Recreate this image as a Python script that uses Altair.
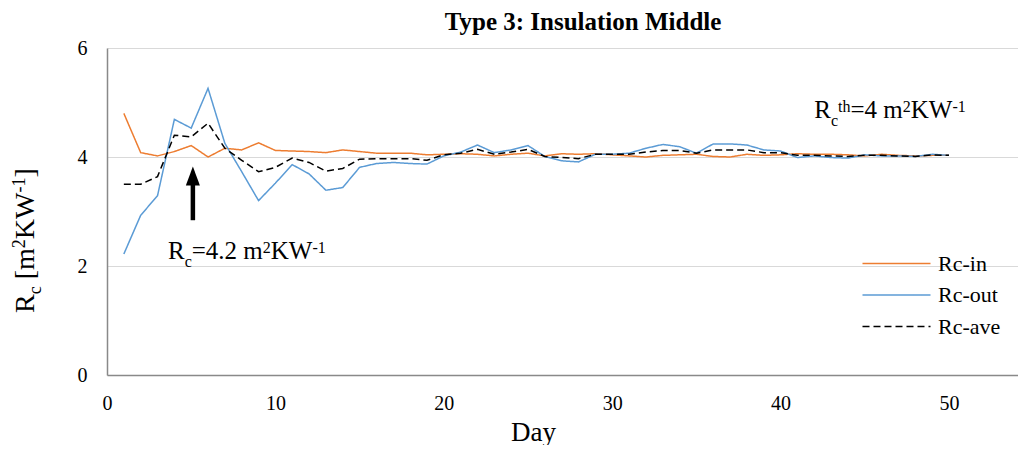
import altair as alt
import pandas as pd

# ---------------- data ----------------
days = list(range(1, 51))
rc_in = [4.80, 4.08, 4.02, 4.10, 4.21, 4.00, 4.16, 4.13, 4.26, 4.12,
         4.11, 4.10, 4.08, 4.13, 4.10, 4.07, 4.07, 4.07, 4.04, 4.05,
         4.06, 4.05, 4.02, 4.05, 4.07, 4.02, 4.06, 4.05, 4.06, 4.04,
         4.02, 4.00, 4.03, 4.04, 4.05, 4.01, 4.00, 4.05, 4.03, 4.04,
         4.06, 4.05, 4.05, 4.04, 4.02, 4.05, 4.03, 4.02, 4.03, 4.03]
rc_out = [2.22, 2.93, 3.29, 4.69, 4.53, 5.26, 4.25, 3.73, 3.20, 3.52,
          3.86, 3.69, 3.39, 3.44, 3.81, 3.88, 3.90, 3.88, 3.87, 4.02,
          4.09, 4.22, 4.08, 4.13, 4.21, 4.01, 3.93, 3.91, 4.05, 4.05,
          4.07, 4.16, 4.23, 4.19, 4.07, 4.24, 4.24, 4.22, 4.13, 4.11,
          3.99, 4.02, 3.99, 3.98, 4.04, 4.02, 4.02, 4.01, 4.05, 4.03]
rc_ave = [3.50, 3.50, 3.64, 4.40, 4.37, 4.62, 4.16, 3.94, 3.73, 3.81,
          3.98, 3.90, 3.74, 3.79, 3.96, 3.97, 3.97, 3.97, 3.94, 4.04,
          4.07, 4.14, 4.05, 4.09, 4.14, 4.01, 3.99, 3.97, 4.05, 4.05,
          4.05, 4.09, 4.12, 4.12, 4.07, 4.13, 4.13, 4.13, 4.08, 4.08,
          4.03, 4.03, 4.02, 4.01, 4.03, 4.03, 4.02, 4.01, 4.04, 4.03]
series_names = ["Rc-in", "Rc-out", "Rc-ave"]
x_ticks = [0, 10, 20, 30, 40, 50]
y_ticks = [0, 2, 4, 6]
chart_title = "Type 3: Insulation Middle"

# arrow (day, from value, to value)
arrow_day = [5.1]
arrow_from = [2.84]
arrow_to = [3.65]

rows = []
for name, vals in zip(series_names, [rc_in, rc_out, rc_ave]):
    for d, v in zip(days, vals):
        rows.append({"day": d, "value": v, "series": name})
df = pd.DataFrame(rows)

SERIF = "Liberation Serif"
X_DOMAIN = [0, 54.1]

x_enc = alt.X("day:Q", scale=alt.Scale(domain=X_DOMAIN, nice=False, zero=False),
              axis=alt.Axis(values=x_ticks, title="Day", grid=False, ticks=False,
                            format="d",
                            labelFont=SERIF, labelFontSize=20, labelColor="black",
                            labelPadding=18, domainColor="#898989", domainWidth=1.5,
                            titleFont=SERIF, titleFontSize=27, titleFontWeight="normal",
                            titleColor="black", titleX=426, titleY=65,
                            titleBaseline="alphabetic", titleAlign="center",
                            labelFlush=False))
y_enc = alt.Y("value:Q", scale=alt.Scale(domain=[0, 6], nice=False),
              axis=alt.Axis(values=y_ticks, title=None, grid=True, gridColor="#d9d9d9",
                            gridWidth=1.2, ticks=False, format="d", labelFont=SERIF,
                            labelFontSize=20, labelColor="black", labelPadding=20,
                            domainColor="#898989", domainWidth=1.5))

# wide legend line: custom path spanning 3x the nominal symbol size
SYM_PATH = "M-3,0H3"
legend_cfg = dict(title=None, orient="none", legendX=777, legendY=203,
                  symbolType=SYM_PATH, symbolSize=514, labelFont=SERIF,
                  labelFontSize=22, labelColor="black", labelOffset=29,
                  rowPadding=7.5, padding=0)

lines = alt.Chart(df).mark_line(clip=True).encode(
    x=x_enc,
    y=y_enc,
    color=alt.Color("series:N",
                    scale=alt.Scale(domain=series_names,
                                    range=["#ED7D31", "#5B9BD5", "#000000"]),
                    legend=alt.Legend(**legend_cfg)),
    strokeDash=alt.StrokeDash("series:N",
                              scale=alt.Scale(domain=series_names,
                                              range=[[1, 0], [1, 0], [7, 4]]),
                              legend=alt.Legend(**legend_cfg)),
    strokeWidth=alt.StrokeWidth("series:N",
                                scale=alt.Scale(domain=series_names, range=[1.5, 1.5, 2]),
                                legend=alt.Legend(**legend_cfg)),
    order=alt.Order("day:Q"),
)

arrow_df = pd.DataFrame({"day": arrow_day, "v0": arrow_from, "v1": arrow_to})
arrow_shaft = alt.Chart(arrow_df).mark_rule(color="black", strokeWidth=4.5).encode(
    x="day:Q", y="v0:Q", y2="v1:Q")
arrow_head = alt.Chart(arrow_df).mark_point(
    shape="M0,-1L0.74,1L-0.74,1Z", size=361, filled=True, color="black",
    opacity=1, strokeWidth=0).encode(x="day:Q", y="v1:Q")

# ---------- rich text helpers (Times/Liberation Serif advance widths) ----------
TW = {"R": 667, "c": 444, "=": 564, ".": 250, " ": 250, "m": 778,
      "K": 722, "W": 944, "-": 333, "t": 278, "h": 500, "[": 333, "]": 333}


def tw(s, size):
    return sum(TW.get(ch, 500) for ch in s) * size / 1000.0


def rich(pieces, anchor_chart_fn, angle=0):
    """pieces: (text, fontSize, baseline shift). Leading spaces only advance."""
    layers = []
    off = 0.0
    for txt, size, shift in pieces:
        stripped = txt.lstrip(" ")
        off += tw(txt[: len(txt) - len(stripped)], size)
        props = dict(text=stripped, font=SERIF, fontSize=size, align="left",
                     baseline="alphabetic", dx=off, dy=shift, color="black")
        if angle:
            props["angle"] = angle
        layers.append(anchor_chart_fn(props))
        off += tw(stripped, size)
    return layers


def data_anchor(day, value):
    d = pd.DataFrame({"day": [day], "value": [value]})
    return lambda props: alt.Chart(d).mark_text(**props).encode(x="day:Q", y="value:Q")


def pixel_anchor(px, py):
    d = pd.DataFrame({"a": [0]})
    return lambda props: alt.Chart(d).mark_text(**props).encode(
        x=alt.value(px), y=alt.value(py))


ann1 = rich([("R", 25, 0), ("c", 16, 8), ("=4.2 m", 25, 0), ("2", 16, -6),
             ("KW", 25, 0), ("-1", 16, -6)], data_anchor(3.62, 2.13))
ann2 = rich([("R", 25, 0), ("c", 16, 8), ("th", 16, -6), ("=4 m", 25, 0),
             ("2", 16, -6), ("KW", 25, 0), ("-1", 16, -6)], data_anchor(42.0, 4.72))
ytitle = rich([("R", 28, 0), ("c", 18, 7), (" [m", 28, 0), ("2", 18, -9),
               ("KW", 28, 0), ("-1", 18, -9), ("]", 28, 0)],
              pixel_anchor(-73, 265), angle=270)

title_mark = alt.Chart(pd.DataFrame({"t": [chart_title]})).mark_text(
    font=SERIF, fontSize=25, fontWeight="bold", color="black", align="center",
    baseline="alphabetic").encode(text="t:N", x=alt.value(476), y=alt.value(-18))

chart = alt.layer(lines, arrow_shaft, arrow_head, *ann1, *ann2, *ytitle,
                  title_mark).properties(
    width=911, height=327,
    autosize=alt.AutoSizeParams(type="none"),
    padding={"left": 99, "top": 40, "right": 0, "bottom": 70},
).configure_view(strokeWidth=0)

chart.save("out.html", embed_options={"renderer": "svg", "actions": False})
